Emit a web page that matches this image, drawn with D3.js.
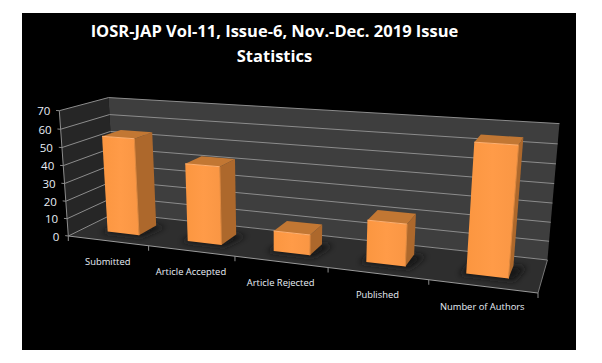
<!DOCTYPE html>
<html><head><meta charset="utf-8">
<script src="https://cdn.jsdelivr.net/npm/d3@7"></script>
<style>html,body{margin:0;background:#fff}svg{display:block}</style></head>
<body><svg id="c" width="602" height="363"></svg>
<script>
const categories=["Submitted","Article Accepted","Article Rejected","Published","Number of Authors"];
const values=[54.5,43,11,22,65];
const yTicks=[0,10,20,30,40,50,60,70];
const titleLines=["IOSR-JAP Vol-11, Issue-6, Nov.-Dec. 2019 Issue","Statistics"];

const svg=d3.select("#c");
svg.append("rect").attr("x",22).attr("y",13).attr("width",554).attr("height",337).attr("fill","#000");

// perspective frame
const O=[68.3,236],U=[538,293],V=[59.3,110.7],D=[115,213];
const a=.825,b=.96,c=1.09;
function P(u,v,d){
  const w=1-u-v-d+a*u+b*v+c*d;
  return [0,1].map(i=>((1-u-v-d)*O[i]+a*u*U[i]+b*v*V[i]+c*d*D[i])/w);
}
const xs=d3.scaleBand().domain(categories).range([.004,1]).paddingInner(.6).paddingOuter(.3);
const xt=d3.scaleBand().domain(categories).range([0,1]);
const ys=d3.scaleLinear().domain([0,70]).range([0,1]);
const ds=d3.scaleLinear().domain([0,1]).range([.3,.7]);
const line=pts=>"M"+pts.map(p=>p.map(n=>n.toFixed(2)).join(",")).join("L")+"Z";
const poly=(pts,f)=>svg.append("path").attr("d",line(pts)).attr("fill",f);
const seg=(p,q,col,w)=>svg.append("line").attr("x1",p[0]).attr("y1",p[1]).attr("x2",q[0]).attr("y2",q[1]).attr("stroke",col).attr("stroke-width",w||1);

// walls
poly([P(0,0,0),P(0,1,0),P(0,1,1),P(0,0,1)],"#262626");
poly([P(0,0,1),P(0,1,1),P(1,1,1),P(1,0,1)],"#3e3e3e");
poly([P(0,0,0),P(0,0,1),P(1,0,1),P(1,0,0)],"#2e2e2e");
yTicks.forEach(t=>{const v=ys(t);
  seg(P(0,v,0),P(0,v,1),"#8c8c8c");
  seg(P(0,v,1),P(1,v,1),"#8c8c8c");
});
seg(P(0,0,0),P(0,1,0),"#8c8c8c");
seg(P(0,0,0),P(1,0,0),"#9a9a9a");
seg(P(1,0,0),P(1,0,1),"#777");
yTicks.forEach(t=>seg(P(0,ys(t),0),P(-.008,ys(t),0),"#8c8c8c"));
d3.range(0,6).forEach(i=>{const u=i/5;const p=P(u,0,0);seg(p,[p[0],p[1]+5],"#8c8c8c");});

// shadows, kept on the floor
const defs=svg.append("defs");
defs.append("filter").attr("id","blur").attr("x","-40%").attr("y","-60%").attr("width","180%").attr("height","220%")
  .append("feGaussianBlur").attr("stdDeviation",3);
defs.append("clipPath").attr("id","floor").append("path").attr("d",line([P(0,0,0),P(0,0,1),P(1,0,1),P(1,0,0)]));
const shadowLayer=svg.append("g").attr("clip-path","url(#floor)");
categories.forEach(k=>{
  const u0=xs(k),u1=u0+xs.bandwidth();
  shadowLayer.append("path").attr("d",line([P(u0-.012,0,ds(0)-.05),P(u1+.012,0,ds(0)-.05),P(u1+.025,0,ds(1)),P(u0,0,ds(1))]))
   .attr("fill","#181818").attr("filter","url(#blur)");
});

// bars
const gf=defs.append("linearGradient").attr("id","fr");
gf.append("stop").attr("offset",0).attr("stop-color","#fb9640");
gf.append("stop").attr("offset",.5).attr("stop-color","#ff9b48");
gf.append("stop").attr("offset",1).attr("stop-color","#f99644");
categories.forEach((k,i)=>{
  const u0=xs(k),u1=u0+xs.bandwidth(),d0=ds(0),d1=ds(1),v=ys(values[i]);
  poly([P(u1,0,d0),P(u1,v,d0),P(u1,v,d1),P(u1,0,d1)],"#ad682c");
  poly([P(u0,v,d0),P(u1,v,d0),P(u1,v,d1),P(u0,v,d1)],"#c27733");
  poly([P(u0,0,d0),P(u1,0,d0),P(u1,v,d0),P(u0,v,d0)],"url(#fr)");
  seg(P(u0,v,d0),P(u1,v,d0),"#ffb070",1);
  seg(P(u1,0,d0),P(u1,v,d0),"#e08a40",1);
});

const font="'Open Sans', Lato, sans-serif";
svg.append("g").selectAll("text").data(yTicks).join("text")
 .attr("x",t=>P(0,ys(t),0)[0]-9).attr("y",t=>P(0,ys(t),0)[1]+4.5)
 .attr("text-anchor","end").attr("fill","#e8eef6").attr("font-family",font).attr("font-size",11.5).text(t=>t);
svg.append("g").selectAll("text").data(categories).join("text")
 .attr("x",k=>P(xt(k)+xt.bandwidth()/2,0,0)[0]).attr("y",k=>P(xt(k)+xt.bandwidth()/2,0,0)[1]+24)
 .attr("text-anchor","middle").attr("fill","#e8eef6").attr("font-family",font).attr("font-size",9.4).text(k=>k);
svg.append("g").selectAll("text").data(titleLines).join("text")
 .attr("x",274.5).attr("y",(t,i)=>37+i*24.5).attr("text-anchor","middle").attr("fill","#fff")
 .attr("font-family",font).attr("font-weight",700).attr("font-size",16.5).text(t=>t);
</script></body></html>
